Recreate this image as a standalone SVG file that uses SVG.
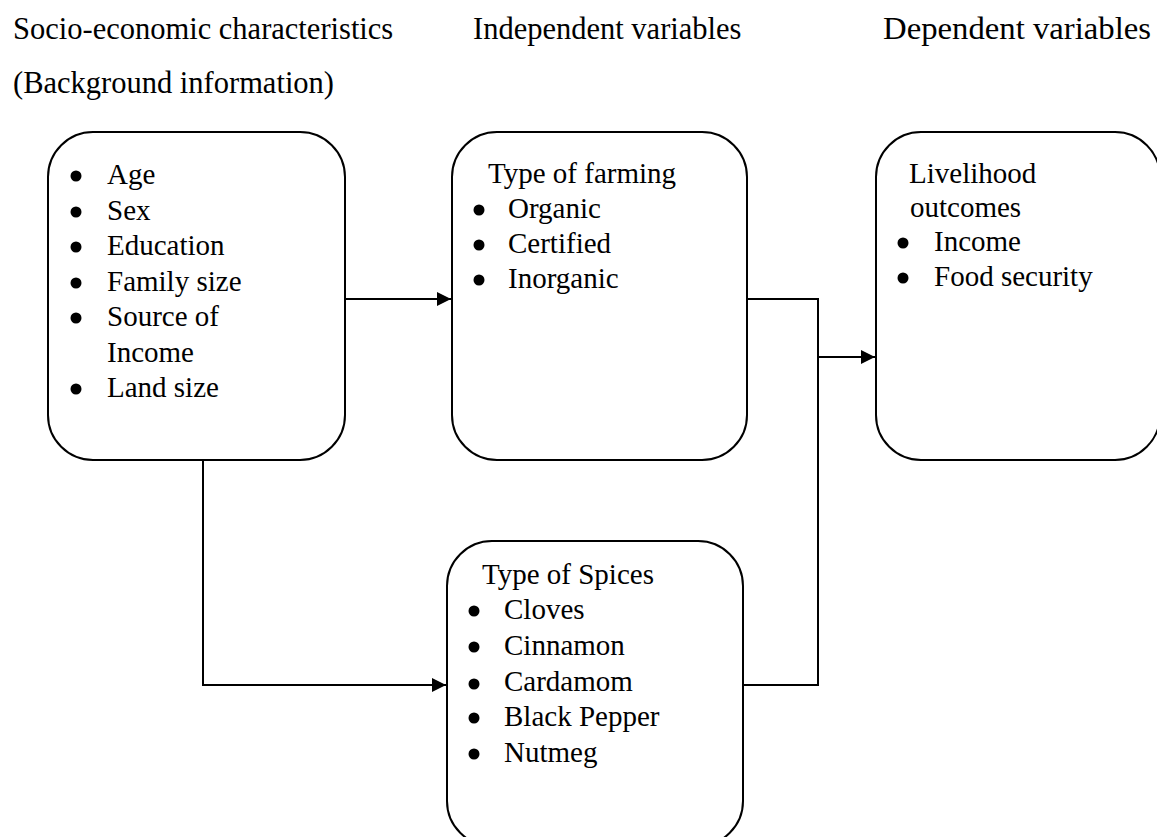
<svg xmlns="http://www.w3.org/2000/svg" width="1157" height="837" viewBox="0 0 1157 837">
<defs>
<style>
text{font-family:"Liberation Serif","Times New Roman",serif;fill:#000}
.h{font-size:30.5px}
.t{font-size:29px}
.box{fill:#fff;stroke:#000;stroke-width:2}
.c{fill:none;stroke:#000;stroke-width:2}
.b{fill:#000}
</style>
<marker id="ah" markerWidth="14" markerHeight="14" viewBox="0 0 14 14" refX="14" refY="7" orient="auto" markerUnits="userSpaceOnUse">
<path d="M0,0 L14,7 L0,14 Z" fill="#000"/>
</marker>
</defs>
<rect width="1157" height="837" fill="#fff"/>
<g id="headers">
<text class="h" x="13" y="39">Socio-economic characteristics</text>
<text class="h" x="13" y="93">(Background information)</text>
<text class="h" x="473" y="39">Independent variables</text>
<text class="h" x="883" y="39" textLength="268" lengthAdjust="spacingAndGlyphs">Dependent variables</text>
</g>
<g id="connectors">
<path class="c" d="M345,299 H451" marker-end="url(#ah)"/>
<path class="c" d="M203,460 V685 H446" marker-end="url(#ah)"/>
<path class="c" d="M747,299 H818 V685 H743"/>
<path class="c" d="M818,357 H875" marker-end="url(#ah)"/>
</g>
<g id="socio">
<rect class="box" x="48" y="132" width="297" height="328" rx="45" ry="45"/>
<circle class="b" cx="76" cy="176" r="5.5"/>
<circle class="b" cx="76" cy="212" r="5.5"/>
<circle class="b" cx="76" cy="247" r="5.5"/>
<circle class="b" cx="76" cy="283" r="5.5"/>
<circle class="b" cx="76" cy="318" r="5.5"/>
<circle class="b" cx="76" cy="389" r="5.5"/>
<text class="t" x="107" y="184">Age</text>
<text class="t" x="107" y="220">Sex</text>
<text class="t" x="107" y="255">Education</text>
<text class="t" x="107" y="291">Family size</text>
<text class="t" x="107" y="326">Source of</text>
<text class="t" x="107" y="362">Income</text>
<text class="t" x="107" y="397">Land size</text>
</g>
<g id="farming">
<rect class="box" x="452" y="132" width="295" height="328" rx="45" ry="45"/>
<text class="t" x="488" y="183">Type of farming</text>
<circle class="b" cx="479" cy="210" r="5.5"/>
<circle class="b" cx="479" cy="245" r="5.5"/>
<circle class="b" cx="479" cy="280" r="5.5"/>
<text class="t" x="508" y="218">Organic</text>
<text class="t" x="508" y="253">Certified</text>
<text class="t" x="508" y="288">Inorganic</text>
</g>
<g id="livelihood">
<rect class="box" x="876" y="132" width="284" height="328" rx="45" ry="45"/>
<text class="t" x="909" y="183">Livelihood</text>
<text class="t" x="910" y="217">outcomes</text>
<circle class="b" cx="903" cy="243" r="5.5"/>
<circle class="b" cx="903" cy="278" r="5.5"/>
<text class="t" x="934" y="251">Income</text>
<text class="t" x="934" y="286">Food security</text>
</g>
<g id="spices">
<rect class="box" x="447" y="541" width="296" height="305" rx="45" ry="45"/>
<text class="t" x="482" y="584">Type of Spices</text>
<circle class="b" cx="474" cy="611" r="5.5"/>
<circle class="b" cx="474" cy="647" r="5.5"/>
<circle class="b" cx="474" cy="684" r="5.5"/>
<circle class="b" cx="474" cy="718" r="5.5"/>
<circle class="b" cx="474" cy="754" r="5.5"/>
<text class="t" x="504" y="619">Cloves</text>
<text class="t" x="504" y="655">Cinnamon</text>
<text class="t" x="504" y="691">Cardamom</text>
<text class="t" x="504" y="726">Black Pepper</text>
<text class="t" x="504" y="762">Nutmeg</text>
</g>
</svg>
